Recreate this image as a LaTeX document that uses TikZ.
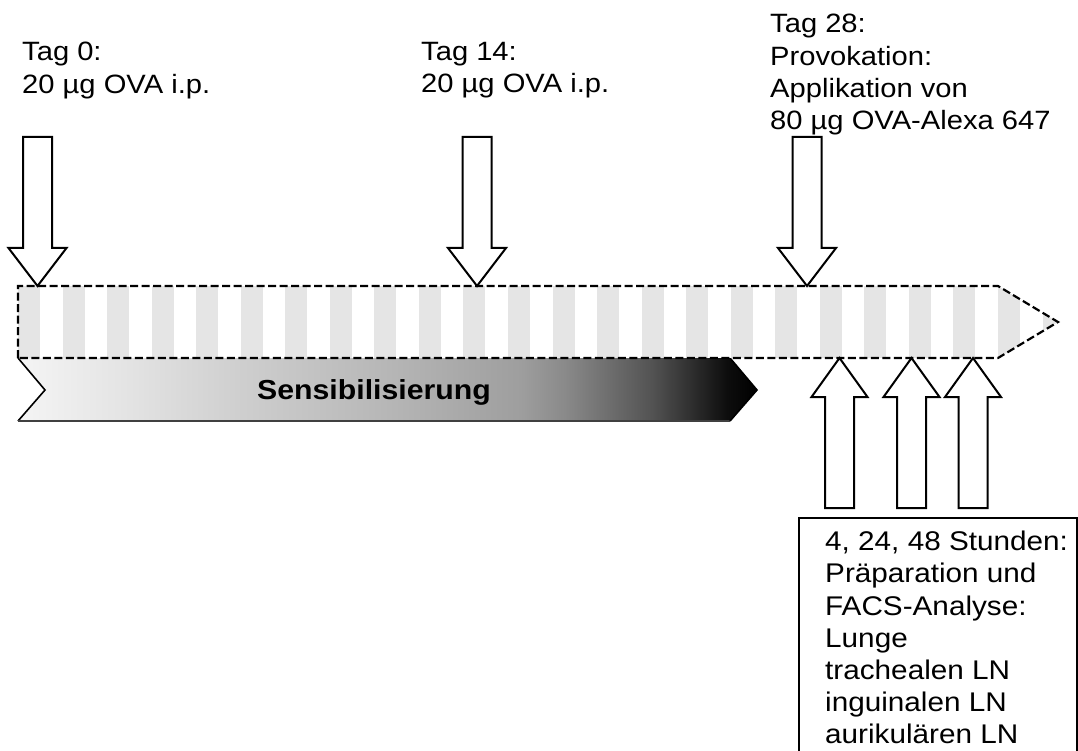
\documentclass[tikz,border=0pt]{standalone}
\usepackage{fontspec}
\setmainfont{Liberation Sans}[FakeStretch=1.1]
\usetikzlibrary{calc}

% light-to-black ramp for the sensitisation chevron (TikZ maps 25bp..75bp onto the path)
\pgfdeclarehorizontalshading{sensramp}{100bp}{%
  rgb(0bp)=(.96,.96,.96);
  rgb(25bp)=(.96,.96,.96);
  rgb(32.6bp)=(.89,.89,.89);
  rgb(40bp)=(.81,.81,.81);
  rgb(49.5bp)=(.72,.72,.72);
  rgb(59bp)=(.62,.62,.62);
  rgb(62bp)=(.54,.54,.54);
  rgb(68bp)=(.32,.32,.32);
  rgb(73bp)=(.05,.05,.05);
  rgb(75bp)=(0,0,0);
  rgb(100bp)=(0,0,0)}

\definecolor{stripegray}{gray}{0.90}

\tikzset{
  label text/.style={anchor=north west, inner sep=0pt, align=left,
    font=\fontsize{26.5}{32.3}\selectfont},
  box text/.style={anchor=north west, inner sep=0pt, align=left,
    font=\fontsize{27}{32.2}\selectfont},
  blockarrow/.style={draw=black, fill=white, line width=2pt, line join=miter},
  timeline edge/.style={draw=black, line width=2.2pt, dash pattern=on 8pt off 3.5pt},
}

% hollow block arrow pointing down: centre x, shaft top y
\newcommand\BlockDown[2]{%
  \draw[blockarrow] ({#1-14.5},#2) -- ({#1+14.5},#2) -- ({#1+14.5},248)
    -- ({#1+29},248) -- (#1,286) -- ({#1-29},248) -- ({#1-14.5},248) -- cycle;}
% hollow block arrow pointing up: centre x, shaft bottom y
\newcommand\BlockUp[2]{%
  \draw[blockarrow] ({#1-14.5},#2) -- ({#1+14.5},#2) -- ({#1+14.5},397)
    -- ({#1+28},397) -- (#1,358) -- ({#1-28},397) -- ({#1-14.5},397) -- cycle;}

\begin{document}
\begin{tikzpicture}[x=1pt,y=-1pt]
\useasboundingbox (0,0) rectangle (1078,751);
\fill[white] (0,0) rectangle (1078,751);

% sensitisation chevron
\shade[shading=sensramp] (18,358) -- (730,358) -- (757,390) -- (730,421)
  -- (18,421) -- (45,390) -- cycle;
\draw[line width=1.6pt, line join=miter] (18,358) -- (45,390) -- (18,421);
\draw[line width=1.6pt, draw=black!75] (18,421) -- (730,421);
\draw[line width=1.6pt, line join=miter] (730,358) -- (757,390) -- (730,421);
\node[font=\fontsize{27.5}{30}\selectfont\bfseries, inner sep=0pt] (sens)
  at (374,392) {Sensibilisierung};

% striped timeline bar
\begin{scope}
  \clip (18,286) -- (998,286) -- (1058,322) -- (998,358) -- (18,358) -- cycle;
  \fill[white] (18,286) rectangle (1060,358);
  \foreach \k in {0,...,23}
    \fill[stripegray] ({18+\k*44.545},286) rectangle ++(22,72);
\end{scope}
\draw[timeline edge] (18,358) -- (18,286) -- (998,286) -- (1058,322)
  -- (998,358) -- cycle;

% injections
\BlockDown{37.5}{137}
\BlockDown{477}{137}
\BlockDown{807}{137}

% sampling time points
\BlockUp{839.5}{508}
\BlockUp{911.5}{508}
\BlockUp{973}{508}

% labels
\node[label text] (tag0) at (22,42) {Tag 0:\\20 µg OVA i.p.};
\node[label text] (tag14) at (421,42) {Tag 14:\\20 µg OVA i.p.};
\node[label text] (tag28) at (770,14) {Tag 28:\\Provokation:\\Applikation von\\80 µg OVA-Alexa 647};

% analysis box
\draw[line width=2pt] (1077,760) -- (1077,518) -- (799,518) -- (799,760);
\node[box text] (result) at (825,531) {4, 24, 48 Stunden:\\Präparation und\\FACS-Analyse:\\Lunge\\trachealen LN\\inguinalen LN\\aurikulären LN};
\end{tikzpicture}
\end{document}
